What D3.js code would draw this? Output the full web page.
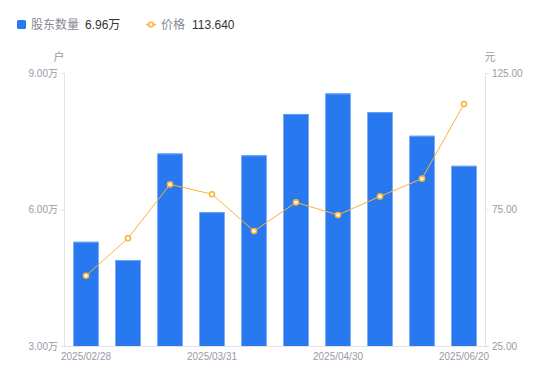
<!DOCTYPE html>
<html><head><meta charset="utf-8">
<script src="https://cdn.jsdelivr.net/npm/d3@7/dist/d3.min.js"></script>
<style>
body{margin:0;background:#fff;}
svg{font-family:"Liberation Sans","Noto Sans CJK SC",sans-serif;}
</style></head>
<body><svg id="c" width="550" height="381"></svg>
<script>
const categories = ["2025/02/28","2025/03/10","2025/03/20","2025/03/31","2025/04/10","2025/04/18","2025/04/30","2025/05/20","2025/06/10","2025/06/20"];
const holders = [5.29, 4.89, 7.23, 5.94, 7.19, 8.10, 8.55, 8.14, 7.62, 6.96];
const prices = [50.75, 64.45, 84.2, 80.6, 67.1, 77.6, 73.0, 79.8, 86.3, 113.64];
const leftTicks = [3, 6, 9];
const rightTicks = [25, 75, 125];
const xLabelIdx = [0, 3, 6, 9];

const svg = d3.select("#c");
const L = 65, R = 485, T = 73, B = 346;
const x = d3.scaleBand().domain(categories).range([L, R]).paddingInner(0.4).paddingOuter(0.2);
const yL = d3.scaleLinear().domain([3, 9]).range([B, T]);
const yR = d3.scaleLinear().domain([25, 125]).range([B, T]);
const axisCol = "#e3e3e8", txtCol = "#9a9aa6";

// left axis
const la = svg.append("g").attr("transform", `translate(${L},0)`)
  .call(d3.axisLeft(yL).tickValues(leftTicks).tickSize(4).tickPadding(3).tickFormat(d => d.toFixed(2) + "万"));
// right axis
const ra = svg.append("g").attr("transform", `translate(${R},0)`)
  .call(d3.axisRight(yR).tickValues(rightTicks).tickSize(4).tickPadding(3).tickFormat(d => d.toFixed(2)));
[la, ra].forEach(g => {
  g.attr("font-family", null);
  g.select(".domain").attr("stroke", axisCol);
  g.selectAll(".tick line").attr("stroke", axisCol);
  g.selectAll(".tick text").attr("fill", txtCol).attr("font-size", 10);
});
la.select(".domain").attr("d", `M-0.5,${T}V${B}`);
ra.select(".domain").attr("d", `M0.5,${T}V${B}`);

// bars
svg.append("g").selectAll("rect").data(holders).join("rect")
  .attr("x", (d, i) => x(categories[i]))
  .attr("width", x.bandwidth())
  .attr("y", d => yL(d))
  .attr("height", d => B - yL(d))
  .attr("fill", "#2878f0");
svg.append("g").selectAll("line").data(holders).join("line")
  .attr("x1", (d, i) => x(categories[i])).attr("x2", (d, i) => x(categories[i]) + x.bandwidth())
  .attr("y1", d => yL(d) + 0.5).attr("y2", d => yL(d) + 0.5)
  .attr("stroke", "#6aa2f5").attr("stroke-width", 1);

// bottom axis
const ba = svg.append("g").attr("transform", `translate(0,${B})`)
  .call(d3.axisBottom(x).tickValues(xLabelIdx.map(i => categories[i])).tickSize(0).tickPadding(7));
ba.attr("font-family", null);
ba.select(".domain").attr("stroke", axisCol).attr("d", `M${L},0.5H${R}`);
ba.selectAll(".tick text").attr("fill", txtCol).attr("font-size", 10);

// line
const cx = (i) => x(categories[i]) + x.bandwidth() / 2;
svg.append("path").datum(prices)
  .attr("d", d3.line().x((d, i) => cx(i)).y(d => yR(d)))
  .attr("fill", "none").attr("stroke", "#fbb33a").attr("stroke-width", 1);
svg.append("g").selectAll("circle").data(prices).join("circle")
  .attr("cx", (d, i) => cx(i)).attr("cy", d => yR(d)).attr("r", 2.5)
  .attr("fill", "#fff").attr("stroke", "#fbb33a").attr("stroke-width", 1.6);

// unit labels
svg.append("text").attr("x", 59).attr("y", 61).attr("text-anchor", "middle").attr("fill", txtCol).attr("font-size", 11).text("户");
svg.append("text").attr("x", 490).attr("y", 61).attr("text-anchor", "middle").attr("fill", txtCol).attr("font-size", 11).text("元");

// legend
const lg = svg.append("g");
lg.append("rect").attr("x", 17).attr("y", 20).attr("width", 9).attr("height", 9).attr("rx", 1.5).attr("fill", "#2878f0");
lg.append("text").attr("x", 31).attr("y", 29).attr("fill", "#888894").attr("font-size", 12).text("股东数量");
lg.append("text").attr("x", 85).attr("y", 29).attr("fill", "#333").attr("font-size", 12).text(holders[holders.length - 1].toFixed(2) + "万");
lg.append("line").attr("x1", 146).attr("x2", 156).attr("y1", 24.5).attr("y2", 24.5).attr("stroke", "#fbb33a").attr("stroke-width", 1.5);
lg.append("circle").attr("cx", 151).attr("cy", 24.5).attr("r", 2.3).attr("fill", "#fff").attr("stroke", "#fbb33a").attr("stroke-width", 1.6);
lg.append("text").attr("x", 161).attr("y", 29).attr("fill", "#888894").attr("font-size", 12).text("价格");
lg.append("text").attr("x", 192).attr("y", 29).attr("fill", "#333").attr("font-size", 12).text(prices[prices.length - 1].toFixed(3));
</script></body></html>
